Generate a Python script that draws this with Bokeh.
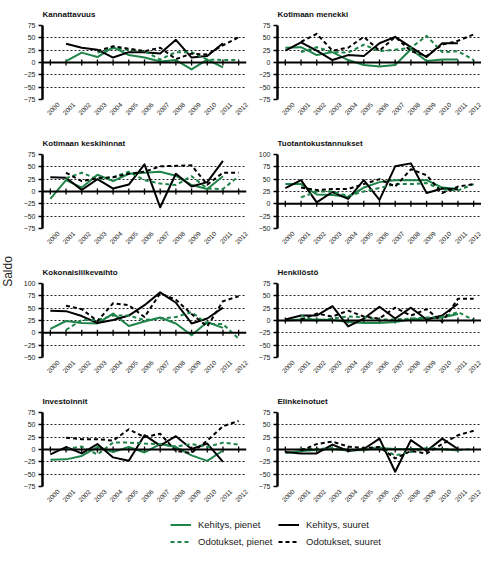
import numpy as np
from math import pi
from bokeh.plotting import figure
from bokeh.models import (Range1d, FixedTicker, Span, Label,
                          Legend, LegendItem, LinearAxis)
from bokeh.layouts import row, column
from bokeh.embed import file_html
from bokeh.resources import INLINE

# ---------------- data ----------------
years = [str(y) for y in range(2000, 2013)]
series_names = ["Kehitys, pienet", "Kehitys, suuret",
                "Odotukset, pienet", "Odotukset, suuret"]
y_label = "Saldo"

titles = ["Kannattavuus", "Kotimaan menekki",
          "Kotimaan keskihinnat", "Tuotantokustannukset",
          "Kokonaisliikevaihto", "Henkilöstö",
          "Investoinnit", "Elinkeinotuet"]
y_ranges = [(-75, 75), (-75, 75),
            (-75, 75), (-50, 100),
            (-50, 100), (-75, 75),
            (-75, 75), (-75, 75)]

N = None
# Kannattavuus
kp1 = [N, 3, 20, 11, 31, 15, 10, 2, 5, -14, 6, -10, N]
ks1 = [N, 38, 30, 26, 10, 21, 21, 18, 46, 10, 13, 39, N]
op1 = [N, N, N, 20, 29, 26, 23, 6, 21, 21, 6, 5, 5]
os1 = [N, N, N, 23, 33, 28, 23, 30, 7, 18, 16, 35, 51]
# Kotimaan menekki
kp2 = [30, 31, 15, 21, 5, -5, -8, -5, 27, 3, 6, 6, N]
ks2 = [24, 41, 24, 5, 15, 13, 39, 52, 31, 11, 39, 39, N]
op2 = [N, 21, 31, 21, 20, 36, 23, 26, 30, 54, 21, 23, 5]
os2 = [N, 42, 58, 24, 30, 52, 24, 52, 23, 13, 36, 44, 57]
# Kotimaan keskihinnat
kp3 = [-15, 23, 8, 34, 21, 36, 38, 40, 32, 13, 5, 31, N]
ks3 = [29, 28, 3, 25, 6, 14, 55, -32, 36, 10, 19, 62, N]
op3 = [N, 27, 38, 25, 29, 40, 23, 16, 13, 31, 6, 5, 31]
os3 = [N, 38, 21, 27, 29, 36, 40, 51, 52, 53, 14, 38, 38]
# Tuotantokustannukset
kp4 = [40, 40, 19, 18, 14, 33, 44, 48, 48, 48, 33, 30, N]
ks4 = [32, 48, 3, 24, 10, 48, 8, 76, 82, 22, 31, 29, N]
op4 = [N, 13, 25, 25, 16, 25, 32, 40, 40, 42, 29, 27, 40]
os4 = [N, 33, 28, 30, 30, 40, 50, 35, 70, 58, 22, 35, 40]
# Kokonaisliikevaihto
kp5 = [8, 24, 20, 19, 39, 14, 23, 31, 19, -5, 22, 10, N]
ks5 = [45, 44, 34, 20, 26, 35, 56, 82, 61, 19, 29, 51, N]
op5 = [N, 6, 26, 26, 35, 35, 26, 29, 32, 42, 18, 18, -12]
os5 = [N, 55, 48, 24, 60, 56, 32, 80, 67, 38, 13, 64, 74]
# Henkilöstö
kp6 = [0, 2, 2, 1, -3, -5, -5, -3, 2, 4, 6, 13, N]
ks6 = [2, 10, 10, 29, -12, 4, 28, 4, 26, 2, 10, 34, N]
op6 = [N, 10, -1, 4, 8, 7, 2, 2, 4, 6, 7, 17, 1]
os6 = [N, 2, 14, 8, 20, 8, 4, 26, 10, 23, -3, 44, 44]
# Investoinnit
kp7 = [-21, -20, -13, 5, -5, 5, -6, 11, 5, -12, -23, -2, N]
ks7 = [-10, 5, -8, 11, -16, -23, 29, 8, 27, 1, 12, -25, N]
op7 = [N, 1, 6, -10, 14, 14, 12, 11, 6, 11, 5, 14, 10]
os7 = [N, 24, 21, 21, 18, 41, 25, 32, -3, -7, 18, 47, 58]
# Elinkeinotuet
kp8 = [-7, -3, -1, 1, -2, -1, 3, 1, 1, 1, 1, -2, N]
ks8 = [-5, -8, -8, 10, -3, 1, 22, -45, 19, -3, 22, 1, N]
op8 = [N, 1, 1, 3, -1, 1, 5, -12, -5, 3, 1, -1, 1]
os8 = [N, -2, 11, 16, 6, 3, 5, -18, -3, -8, 11, 29, 38]

panel_data = [(kp1, ks1, op1, os1), (kp2, ks2, op2, os2),
              (kp3, ks3, op3, os3), (kp4, ks4, op4, os4),
              (kp5, ks5, op5, os5), (kp6, ks6, op6, os6),
              (kp7, ks7, op7, os7), (kp8, ks8, op8, os8)]

# ---------------- style ----------------
GREEN = "#1e8449"
BLACK = "#000000"
FONT = "Liberation Sans"
styles = [dict(color=GREEN, dash="solid"), dict(color=BLACK, dash="solid"),
          dict(color=GREEN, dash="4 3"), dict(color=BLACK, dash="4 3")]

ROW_H = 129
LEFT_W, RIGHT_W = 235, 226
LABEL_SHIFT = 0.5   # year labels centred under their category (rotated)

n_years = len(years)
x_pos = list(range(n_years))        # category index of each year
year_labels = {i: y for i, y in zip(x_pos, years)}


def make_panel(idx):
    left = idx % 2 == 0
    ymin, ymax = y_ranges[idx]
    p = figure(x_range=Range1d(-0.5, n_years - 0.5), y_range=Range1d(ymin, ymax),
               width=LEFT_W if left else RIGHT_W, height=ROW_H,
               min_border_left=20, min_border_right=9 if left else 0,
               min_border_top=22, min_border_bottom=30,
               x_axis_location=None,
               output_backend="svg", toolbar_location=None, title=titles[idx])
    p.outline_line_color = None
    p.title.text_font = FONT
    p.title.text_font_size = "8px"
    p.title.text_font_style = "bold"
    p.title.align = "left"
    p.title.standoff = 14
    p.title.text_color = "#111111"

    ticks = list(range(ymin, ymax + 1, 25))
    p.yaxis.ticker = FixedTicker(ticks=ticks)
    p.yaxis.axis_line_width = 2.5
    p.yaxis.axis_line_color = "black"
    p.yaxis.major_tick_out = 4
    p.yaxis.major_tick_in = 0
    p.yaxis.major_tick_line_width = 1.5
    p.yaxis.minor_tick_line_color = None
    p.yaxis.major_label_text_font = FONT
    p.yaxis.major_label_text_font_size = "7px"
    p.yaxis.major_label_text_color = "#222222"
    p.yaxis.major_label_standoff = 3

    p.ygrid.ticker = FixedTicker(ticks=[t for t in ticks if t not in (0, ymin, ymax)])
    p.ygrid.grid_line_color = "#222222"
    p.ygrid.grid_line_dash = "2 2"
    p.ygrid.grid_line_width = 1.2
    p.xgrid.grid_line_color = None

    # year labels: helper axis on a range offset by half a category
    p.extra_x_ranges = {"lab": Range1d(-0.5 - LABEL_SHIFT, n_years - 0.5 - LABEL_SHIFT)}
    xax = LinearAxis(x_range_name="lab", ticker=FixedTicker(ticks=x_pos),
                     major_label_overrides=year_labels)
    xax.axis_line_color = None
    xax.major_tick_line_color = None
    xax.minor_tick_line_color = None
    xax.major_tick_out = 0
    xax.major_tick_in = 0
    xax.major_label_orientation = pi / 4
    xax.major_label_text_font = FONT
    xax.major_label_text_font_size = "6.5px"
    xax.major_label_text_color = "#222222"
    xax.major_label_standoff = 4
    p.add_layout(xax, "below")

    # zero line with category ticks
    p.add_layout(Span(location=0, dimension="width", line_color="black", line_width=2))
    p.scatter(x=x_pos, y=[0] * n_years, marker="dash", angle=pi / 2, size=6,
              line_color="black", line_width=1.3)

    for vals, st in zip(panel_data[idx], styles):
        y = np.array(vals, dtype=float)
        p.line(x=x_pos, y=y, line_color=st["color"], line_width=2,
               line_dash=st["dash"], line_join="round")
    return p


panels = [make_panel(i) for i in range(8)]

# y label figure
saldo = figure(width=20, height=4 * ROW_H, min_border=0, output_backend="svg",
               toolbar_location=None, x_axis_location=None, y_axis_location=None,
               x_range=Range1d(0, 1), y_range=Range1d(0, 1))
saldo.outline_line_color = None
saldo.xgrid.grid_line_color = None
saldo.ygrid.grid_line_color = None
saldo.add_layout(Label(x=7, y=4 * ROW_H - 271, x_units="screen", y_units="screen",
                       text=y_label, angle=pi / 2, text_align="center",
                       text_baseline="middle", text_font=FONT,
                       text_font_size="12px", text_color="#222222"))

# legend figure (legend-only renderers sit outside the visible range)
leg = figure(width=481, height=34, min_border=0, output_backend="svg",
             toolbar_location=None, x_axis_location=None, y_axis_location=None,
             x_range=Range1d(0, 1), y_range=Range1d(0, 1))
leg.outline_line_color = None
leg.xgrid.grid_line_color = None
leg.ygrid.grid_line_color = None
rends = []
for st in styles:
    rends.append(leg.line(x=[-5, -4], y=[-5, -5], line_color=st["color"], line_width=2,
                          line_dash=st["dash"]))
order = [0, 2, 1, 3]
legend = Legend(items=[LegendItem(label=series_names[i], renderers=[rends[i]]) for i in order],
                location=(170, 0), ncols=2, padding=0, margin=0, spacing=0,
                glyph_width=21, glyph_height=17, label_height=17, label_width=80,
                label_standoff=7, label_text_font=FONT, label_text_font_size="9.5px",
                label_text_color="#222222", background_fill_alpha=0,
                border_line_color=None)
leg.add_layout(legend)

grid = column(row(panels[0], panels[1]), row(panels[2], panels[3]),
              row(panels[4], panels[5]), row(panels[6], panels[7]))
layout = column(row(saldo, grid), leg)

open("out.html", "w").write(file_html(layout, INLINE))
